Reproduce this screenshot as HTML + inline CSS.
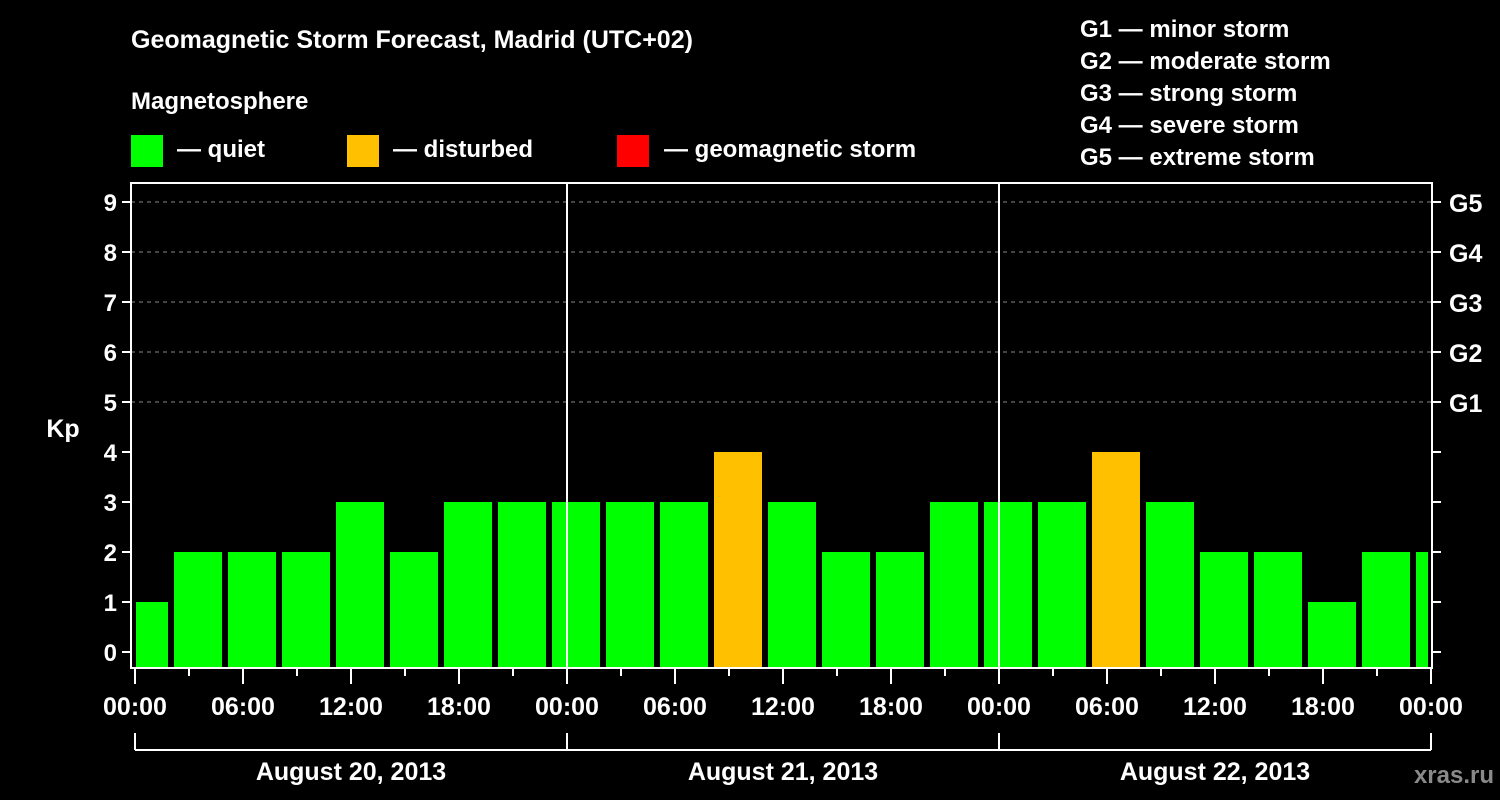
<!DOCTYPE html>
<html><head><meta charset="utf-8"><style>
body{margin:0;background:#000;width:1500px;height:800px;overflow:hidden}
svg{display:block}
text{font-family:"Liberation Sans",Arial,sans-serif;font-weight:bold;fill:#fff}
</style></head><body>
<svg id="c" width="1500" height="800">
<text x="131" y="48" font-size="25">Geomagnetic Storm Forecast, Madrid (UTC+02)</text>
<text x="131" y="109" font-size="24">Magnetosphere</text>
<rect x="131" y="135" width="32" height="32" fill="#00ff00"/>
<text x="177" y="157" font-size="24">— quiet</text>
<rect x="347" y="135" width="32" height="32" fill="#ffc000"/>
<text x="393" y="157" font-size="24">— disturbed</text>
<rect x="617" y="135" width="32" height="32" fill="#ff0000"/>
<text x="664" y="157" font-size="24">— geomagnetic storm</text>
<g font-size="24">
<text x="1080" y="37">G1 — minor storm</text>
<text x="1080" y="69">G2 — moderate storm</text>
<text x="1080" y="101">G3 — strong storm</text>
<text x="1080" y="133">G4 — severe storm</text>
<text x="1080" y="165">G5 — extreme storm</text>
</g>
<text x="63" y="437" font-size="25" text-anchor="middle">Kp</text>
<text x="1494" y="783" font-size="24" text-anchor="end" fill="#888" style="fill:#8a8a8a">xras.ru</text>
<g id="g"></g>
</svg>
<script>
const kpValues=[1,2,2,2,3,2,3,3,3,3,3,4,3,2,2,3,3,3,4,3,2,2,1,2,2];
const startHour=-1; // local hour of first 3h interval
const dayLabels=["August 20, 2013","August 21, 2013","August 22, 2013"];
const timeLabels=["00:00","06:00","12:00","18:00"];
const gLabels=["G1","G2","G3","G4","G5"];
const L=131,R=1432,T=183,B=668,X0=135,PXH=18;
const xs=h=>X0+h*PXH, ys=v=>652-v*50;
const NS="http://www.w3.org/2000/svg", g=document.getElementById('g');
function mk(t,a){const e=document.createElementNS(NS,t);for(const k in a)e.setAttribute(k,a[k]);g.appendChild(e);return e;}
// grid
for(let v=5;v<=9;v++){const e=mk('line',{x1:L,x2:R,y1:ys(v),y2:ys(v),stroke:'#888','stroke-dasharray':'4,4','stroke-width':1});

}
// bars
kpValues.forEach((v,i)=>{const h0=startHour+i*3;let x1=Math.max(xs(h0)+3,X0+1),x2=Math.min(xs(h0+3)-3,R-4);
const c=v>=5?'#ff0000':v>=4?'#ffc000':'#00ff00';
const e=mk('rect',{x:x1,y:ys(v),width:x2-x1,height:B-ys(v),fill:c});

});
// day separators
[1,2].forEach(d=>{const e=mk('line',{x1:xs(d*24),x2:xs(d*24),y1:T,y2:B,stroke:'#fff','stroke-width':2});

});
// frame
const f=mk('rect',{x:L,y:T,width:R-L,height:B-T,fill:'none',stroke:'#fff','stroke-width':2});


// y ticks
for(let v=0;v<=9;v++){mk('line',{x1:L-9,x2:L,y1:ys(v),y2:ys(v),stroke:'#fff','stroke-width':2});
mk('line',{x1:R,x2:R+9,y1:ys(v),y2:ys(v),stroke:'#fff','stroke-width':2});
const t=mk('text',{x:L-14,y:ys(v)+9,'font-size':24,'text-anchor':'end'});t.textContent=v;

}
gLabels.forEach((s,i)=>{const t=mk('text',{x:1449,y:ys(5+i)+10,'font-size':25});t.textContent=s;

});
// x ticks
for(let h=0;h<=72;h+=3){const major=h%6===0;mk('line',{x1:xs(h),x2:xs(h),y1:B,y2:B+(major?16:8),stroke:'#fff','stroke-width':2});
if(major&&h%6===0){const t=mk('text',{x:xs(h),y:715,'font-size':25,'text-anchor':'middle'});t.textContent=timeLabels[(h/6)%4];

}}
// day bracket
mk('line',{x1:xs(0),x2:xs(72),y1:750,y2:750,stroke:'#fff','stroke-width':2});
for(let d=0;d<=3;d++)mk('line',{x1:xs(d*24),x2:xs(d*24),y1:733,y2:750,stroke:'#fff','stroke-width':2});
dayLabels.forEach((s,d)=>{const t=mk('text',{x:xs(d*24+12),y:780,'font-size':25,'text-anchor':'middle'});t.textContent=s;

});
</script>
</body></html>
